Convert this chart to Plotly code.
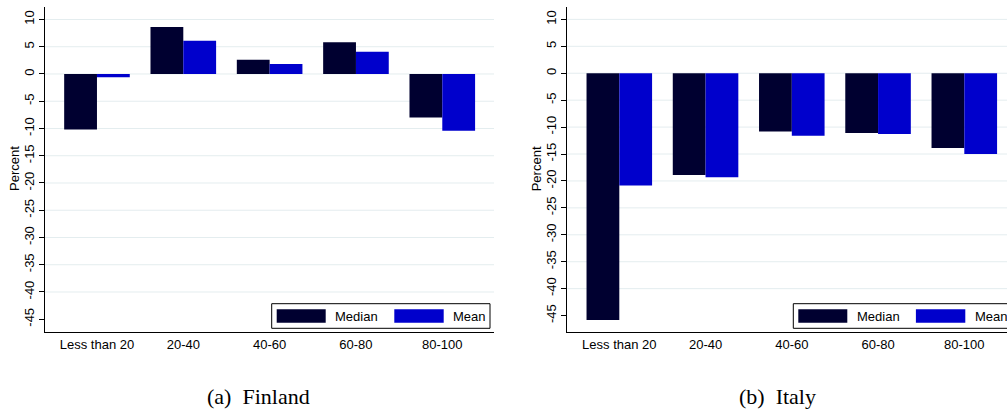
import plotly.graph_objects as go

# Income groups (percentile ranges) and percentage changes by country
groups = ["Less than 20", "20-40", "40-60", "60-80", "80-100"]
finland_median = [-10.2, 8.6, 2.6, 5.8, -8.0]
finland_mean = [-0.6, 6.1, 1.85, 4.1, -10.4]
italy_median = [-45.8, -18.9, -10.8, -11.1, -13.9]
italy_mean = [-20.85, -19.3, -11.6, -11.3, -15.0]
y_ticks = [10, 5, 0, -5, -10, -15, -20, -25, -30, -35, -40, -45]
grid_vals = [10, 5, 0, -5, -10, -15, -20, -25, -30, -35, -40]
captions = ["(a)\u2002Finland", "(b)\u2002Italy"]

W, H = 1007, 410
MEDIAN_COLOR = "#000030"
MEAN_COLOR = "#0000CC"
GRID_COLOR = "#E4EDEF"
FONT = "Arial, Liberation Sans, sans-serif"

fig = go.Figure()

panels = [
    dict(xa="x", ya="y", med=finland_median, mean=finland_mean),
    dict(xa="x2", ya="y2", med=italy_median, mean=italy_mean),
]
for p in panels:
    fig.add_trace(go.Bar(x=groups, y=p["med"], name="Median", marker_color=MEDIAN_COLOR,
                         marker_line_width=0, xaxis=p["xa"], yaxis=p["ya"], showlegend=False))
    fig.add_trace(go.Bar(x=groups, y=p["mean"], name="Mean", marker_color=MEAN_COLOR,
                         marker_line_width=0, xaxis=p["xa"], yaxis=p["ya"], showlegend=False))


def px_x(v):
    return v / W


def px_y(v):
    return 1 - v / H


plot_top, plot_bottom = 7, 332
y_domain = [px_y(plot_bottom), px_y(plot_top)]

common_x = dict(type="category", showline=True, linecolor="black", linewidth=1.3,
                ticks="", showgrid=False, zeroline=False,
                tickfont=dict(family=FONT, size=13, color="black"))
common_y = dict(showline=True, linecolor="black", linewidth=1.3, ticks="outside",
                ticklen=5, tickwidth=1, tickcolor="black", tickvals=y_ticks,
                ticktext=[str(v) for v in y_ticks], tickangle=-90,
                showgrid=False, zeroline=False,
                tickfont=dict(family=FONT, size=13, color="black"))

fig.update_layout(
    width=W, height=H,
    margin=dict(l=0, r=0, t=0, b=0),
    paper_bgcolor="white", plot_bgcolor="white",
    barmode="group", bargap=0.24, bargroupgap=0,
    xaxis=dict(domain=[px_x(45), px_x(494)], range=[-0.602, 4.599], anchor="y", **common_x),
    yaxis=dict(domain=y_domain, range=[-47.34, 12.29], anchor="x", **common_y),
    xaxis2=dict(domain=[px_x(567.3), 1.0], range=[-0.603, 4.495], anchor="y2", **common_x),
    yaxis2=dict(domain=y_domain, range=[-48.05, 12.3], anchor="x2", **common_y),
)

# Horizontal grid lines (none at the lowest tick)
for xa, ya in [("x", "y"), ("x2", "y2")]:
    for v in grid_vals:
        fig.add_shape(type="line", xref=f"{xa} domain", yref=ya, x0=0, x1=1, y0=v, y1=v,
                      line=dict(color=GRID_COLOR, width=1), layer="below")

# Vertical axis titles
for tx in [15, 15 + 522.3]:
    fig.add_annotation(xref="paper", yref="paper", x=px_x(tx), y=px_y(169),
                       text="Percent", textangle=-90, showarrow=False,
                       xanchor="center", yanchor="middle",
                       font=dict(family=FONT, size=13, color="black"))

# Legend boxes drawn inside each panel
for off in [0, 521.6]:
    fig.add_shape(type="rect", xref="paper", yref="paper",
                  x0=px_x(271.7 + off), x1=px_x(490 + off), y0=px_y(328.3), y1=px_y(303.7),
                  line=dict(color="black", width=1), fillcolor="white", layer="above")
    for sx0, sx1, tx, label, color in [
        (276.7, 325.7, 333.3, "Median", MEDIAN_COLOR),
        (394.3, 443.7, 451.0, "Mean", MEAN_COLOR),
    ]:
        fig.add_shape(type="rect", xref="paper", yref="paper",
                      x0=px_x(sx0 + off), x1=px_x(sx1 + off), y0=px_y(322.7), y1=px_y(309.3),
                      line=dict(width=0), fillcolor=color, layer="above")
        fig.add_annotation(xref="paper", yref="paper", x=px_x(tx + off), y=px_y(316),
                           text=label, showarrow=False, xanchor="left", yanchor="middle",
                           font=dict(family=FONT, size=13, color="black"))

# Panel captions
for cx, text in zip([258, 777.5], captions):
    fig.add_annotation(xref="paper", yref="paper", x=px_x(cx), y=px_y(396),
                       text=text, showarrow=False, xanchor="center", yanchor="middle",
                       font=dict(family="Liberation Serif, DejaVu Serif, serif", size=22,
                                 color="black"))

fig.write_html("out.html")
